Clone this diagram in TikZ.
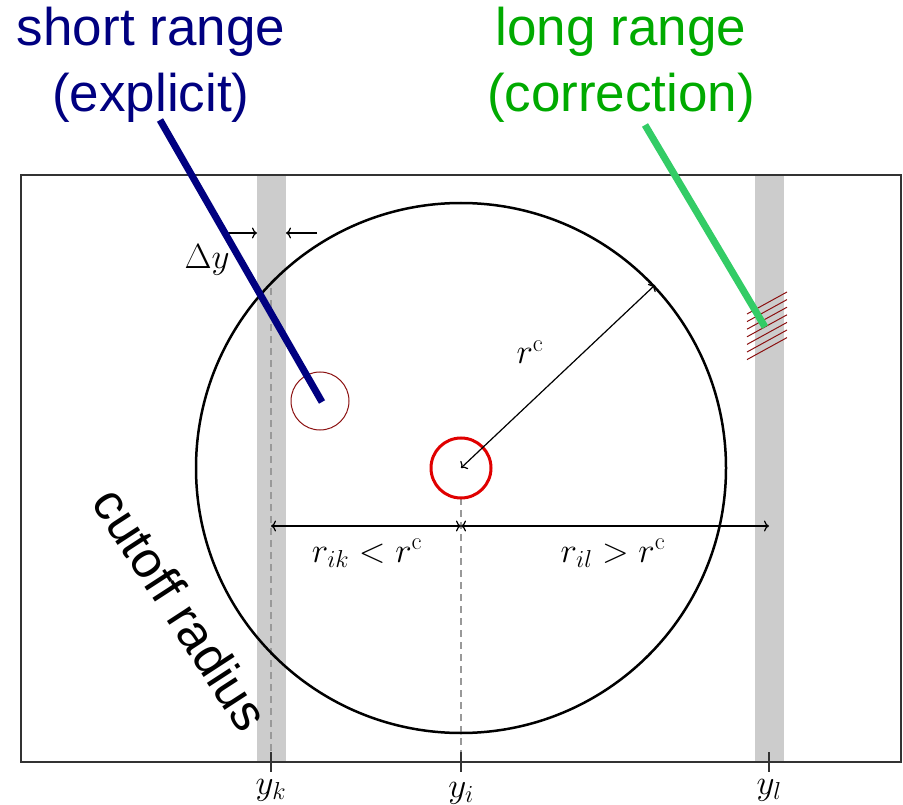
\RequirePackage{fix-cm}
\documentclass[tikz,border=0pt]{standalone}
\usepackage{fontspec}
\newfontfamily\labelfont{Liberation Sans}
\usetikzlibrary{arrows.meta}
\definecolor{stripgray}{HTML}{CCCCCC}
\definecolor{framegray}{HTML}{333333}
\definecolor{dashgray}{HTML}{999999}
\definecolor{navyc}{HTML}{000080}
\definecolor{greentext}{HTML}{00AA00}
\definecolor{greenline}{HTML}{33CC66}
\definecolor{darkredc}{HTML}{8B1010}
\definecolor{redc}{HTML}{E00000}
\tikzset{
  stripbox/.style={fill=stripgray, draw=none},
  framebox/.style={draw=framegray, line width=2pt},
  dashline/.style={draw=dashgray, line width=1.2pt, dash pattern=on 7pt off 5pt},
  dimarrow/.style={line width=1.2pt, {To[length=5pt,width=11pt]}-{To[length=5pt,width=11pt]}},
  onearrow/.style={line width=1.2pt, -{To[length=5pt,width=11pt]}},
  tickline/.style={line width=1.3pt, framegray},
  mathlabel/.style={font=\fontsize{35}{42}\selectfont, inner sep=0pt},
  biglabel/.style={font=\labelfont\fontsize{53}{66}\selectfont, align=center, inner sep=0pt},
  pointer/.style={line width=7pt},
  hatchline/.style={draw=darkredc, line width=1pt}
}
\begin{document}
\begin{tikzpicture}[x=1pt,y=-1pt]
\useasboundingbox (0,0) rectangle (903,805);
% strips
\fill[stripbox] (257,175) rectangle (286,762);
\fill[stripbox] (755,175) rectangle (784,762);
% coordinates
\coordinate (ctr) at (461,468);
\coordinate (yk) at (271,762);
\coordinate (yi) at (461,762);
\coordinate (yl) at (769,762);
\coordinate (dkTop) at (271,288);
\coordinate (diTop) at (461,498);
\coordinate (hk) at (271,526);
\coordinate (hi) at (461,526);
\coordinate (hl) at (769,526);
\coordinate (rcEnd) at (655,285);
\coordinate (smallc) at (320,401);
% dashed lines
\draw[dashline] (dkTop) -- (yk);
\draw[dashline] (diTop) -- (yi);
% frame
\draw[framebox] (21,175) rectangle (901,762);
% ticks
\foreach \p in {yk,yi,yl} {
  \draw[tickline] ([yshift=10pt]\p) -- ([yshift=-10pt]\p);
}
% big circle
\draw[line width=2.5pt] (ctr) circle[radius=265];
% red circles
\draw[redc, line width=3pt] (ctr) circle[radius=30];
\draw[darkredc, line width=1pt] (smallc) circle[radius=29];
% r^c arrow
\draw[dimarrow] (ctr) -- (rcEnd);
\node[mathlabel] (rclabel) at (530,352) {$r^{\mathrm{c}}$};
% horizontal arrows
\draw[dimarrow] (hk) -- (hi);
\draw[dimarrow] (hi) -- (hl);
\node[mathlabel] (riklabel) at (367,553) {$r_{ik} < r^{\mathrm{c}}$};
\node[mathlabel] (rillabel) at (613,553) {$r_{il} > r^{\mathrm{c}}$};
% delta y arrows
\coordinate (dyL0) at (222,233);
\coordinate (dyL1) at (257,233);
\coordinate (dyR0) at (317,233);
\coordinate (dyR1) at (286,233);
\draw[onearrow] (dyL0) -- (dyL1);
\draw[onearrow] (dyR0) -- (dyR1);
\node[mathlabel] (dylabel) at (207,260) {$\Delta y$};
% hatching
\foreach \k in {0,...,6} {
  \draw[hatchline] (747,314+7.6*\k) -- (787,292+7.6*\k);
}
% axis labels
\node[mathlabel] (yklabel) at (271,790) {$y_k$};
\node[mathlabel] (yilabel) at (461,793) {$y_i$};
\node[mathlabel] (yllabel) at (769,790) {$y_l$};
% pointers
\node[biglabel, text=navyc] (short) at (151,65) {short range\\(explicit)};
\node[biglabel, text=greentext] (long) at (621,65) {long range\\(correction)};
\coordinate (shortStart) at (160,120);
\coordinate (longStart) at (645,125);
\coordinate (shortEnd) at (322,402);
\coordinate (longEnd) at (765,327);
\draw[pointer, navyc] (shortStart) -- (shortEnd);
\draw[pointer, greenline] (longStart) -- (longEnd);
% cutoff radius
\node[font=\labelfont\fontsize{51}{64}\selectfont, rotate=-57, inner sep=0pt] (cutoff) at (181,609) {cutoff radius};
\end{tikzpicture}
\end{document}
